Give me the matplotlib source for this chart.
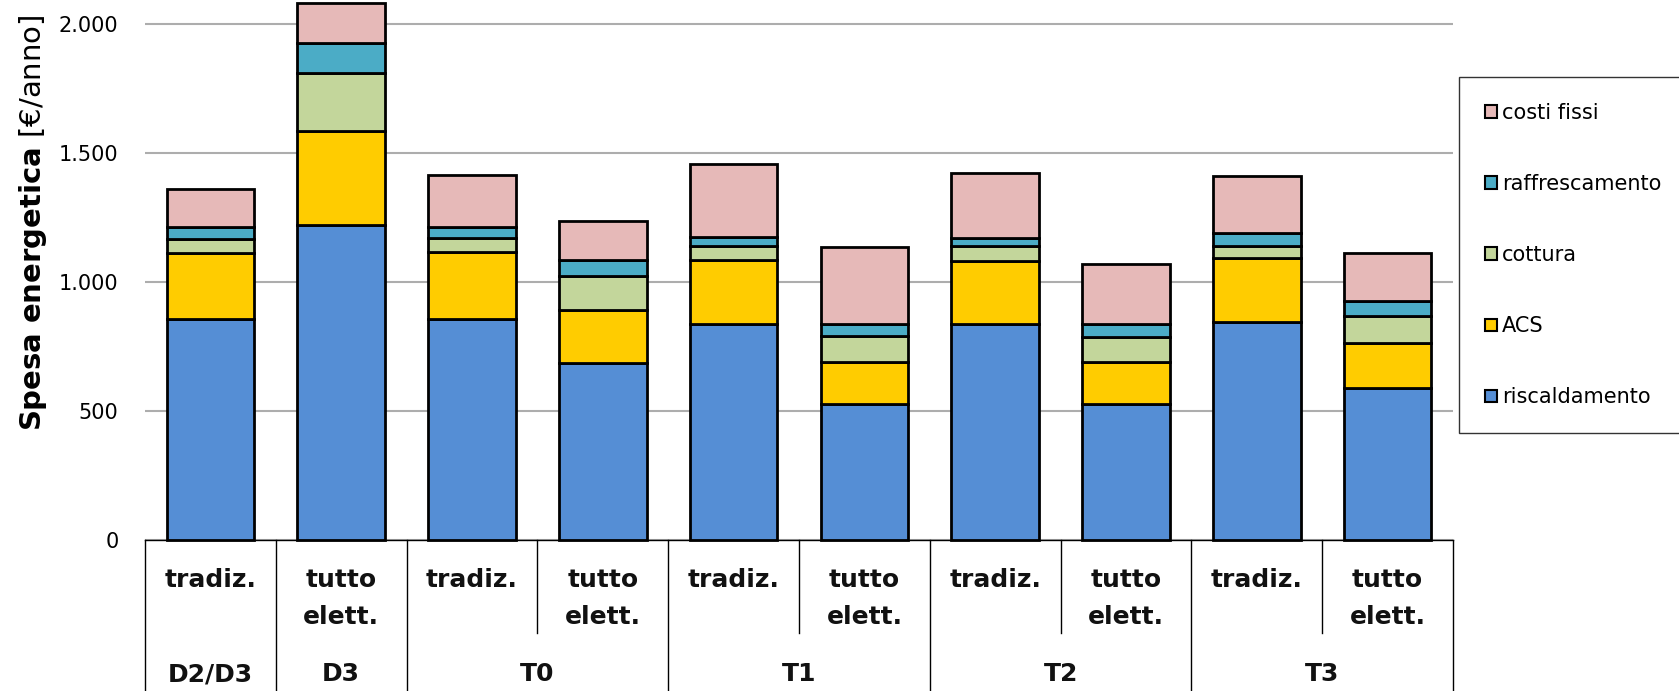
import matplotlib
matplotlib.use("Agg")
import matplotlib.pyplot as plt
from matplotlib.ticker import FuncFormatter
from matplotlib.patches import Patch
import matplotlib.transforms as mtransforms

# ---- data ----
sub_labels = ["tradiz.", "tutto\nelett.", "tradiz.", "tutto\nelett.", "tradiz.",
              "tutto\nelett.", "tradiz.", "tutto\nelett.", "tradiz.", "tutto\nelett."]
group_labels = ["D2/D3", "D3", "T0", "T1", "T2", "T3"]
group_sizes = [1, 1, 2, 2, 2, 2]

series_names = ["riscaldamento", "ACS", "cottura", "raffrescamento", "costi fissi"]
riscaldamento = [856, 1220, 858, 685, 838, 529, 838, 529, 845, 591]
acs = [256, 365, 257, 207, 246, 161, 242, 161, 249, 172]
cottura = [55, 225, 55, 130, 57, 100, 59, 98, 47, 107]
raffrescamento = [45, 117, 45, 62, 32, 46, 31, 48, 48, 55]
costi_fissi = [150, 153, 200, 154, 285, 301, 253, 232, 223, 187]
series_values = [riscaldamento, acs, cottura, raffrescamento, costi_fissi]
series_colors = ["#558ED5", "#FFCC00", "#C3D69B", "#4BACC6", "#E6B9B8"]

yticks = [0, 500, 1000, 1500, 2000]

# ---- figure ----
W, H = 1679, 691
fig = plt.figure(figsize=(W / 100, H / 100), dpi=100)
ax_left, ax_right, ax_bottom_px = 145, 1453, 540
ax = fig.add_axes([ax_left / W, (H - ax_bottom_px) / H,
                   (ax_right - ax_left) / W, ax_bottom_px / H])

n = len(sub_labels)
x = list(range(n))
bottom = [0] * n
for name, vals, col in zip(series_names, series_values, series_colors):
    ax.bar(x, vals, width=0.67, bottom=bottom, color=col, edgecolor="black",
           linewidth=2.0, label=name, zorder=3, clip_on=False)
    bottom = [b + v for b, v in zip(bottom, vals)]

ax.set_xlim(-0.5, n - 0.5)
ax.set_ylim(0, 2093)
ax.set_yticks(yticks)
ax.yaxis.set_major_formatter(FuncFormatter(lambda v, p: f"{int(v):,}".replace(",", ".")))
ax.tick_params(axis="y", length=0, pad=19, labelsize=15, labelcolor="#000000")
ax.set_xticks([])
for s in ["left", "right", "top"]:
    ax.spines[s].set_visible(False)
ax.spines["bottom"].set_linewidth(1.0)
ax.spines["bottom"].set_color("black")
ax.yaxis.grid(True, color="#ADADAD", linewidth=1.5, zorder=0)
ax.set_axisbelow(True)

# ---- category table below axis ----
trans = mtransforms.blended_transform_factory(ax.transData, ax.transAxes)
y_bot = -(H - ax_bottom_px) / ax_bottom_px
y_short = -(633 - ax_bottom_px) / ax_bottom_px
y_line1 = -(580 - ax_bottom_px) / ax_bottom_px
y_line2 = -(617 - ax_bottom_px) / ax_bottom_px
y_group = -(674 - ax_bottom_px) / ax_bottom_px

bounds = [0]
for g in group_sizes:
    bounds.append(bounds[-1] + g)
for b in bounds:
    ax.plot([b - 0.5, b - 0.5], [0, y_bot], transform=trans, color="black",
            linewidth=1.0, clip_on=False)
for i in range(1, n):
    if i not in bounds:
        ax.plot([i - 0.5, i - 0.5], [0, y_short], transform=trans, color="black",
                linewidth=1.0, clip_on=False)

for i, lab in enumerate(sub_labels):
    lines = lab.split("\n")
    for j, ln in enumerate(lines):
        yy = y_line1 if j == 0 else y_line2
        ax.text(i, yy, ln, transform=trans, ha="center", va="center",
                fontsize=18, fontweight="bold", color="#111111")

for k, g in enumerate(group_labels):
    cx = (bounds[k] + bounds[k + 1] - 1) / 2
    ax.text(cx, y_group, g, transform=trans, ha="center", va="center",
            fontsize=18, fontweight="bold", color="#111111")

# ---- y label ----
fig.text(33 / W, 1 - 223 / H, r"$\mathbf{Spesa\ energetica}$ [€/anno]",
         rotation=90, ha="center", va="center", fontsize=21)

# ---- legend ----
handles = [Patch(facecolor=c, edgecolor="black", linewidth=1.5) for c in series_colors]
leg = fig.legend(handles[::-1], series_names[::-1], loc="upper left",
                 bbox_to_anchor=(1459 / W, 1 - 77 / H), frameon=True,
                 fontsize=15, handlelength=0.55, handleheight=0.55,
                 handletextpad=0.25, labelspacing=2.45, borderpad=1.25,
                 fancybox=False, borderaxespad=0)
leg.get_frame().set_edgecolor("black")
leg.get_frame().set_linewidth(1.0)

fig.savefig("out.png", dpi=100)
